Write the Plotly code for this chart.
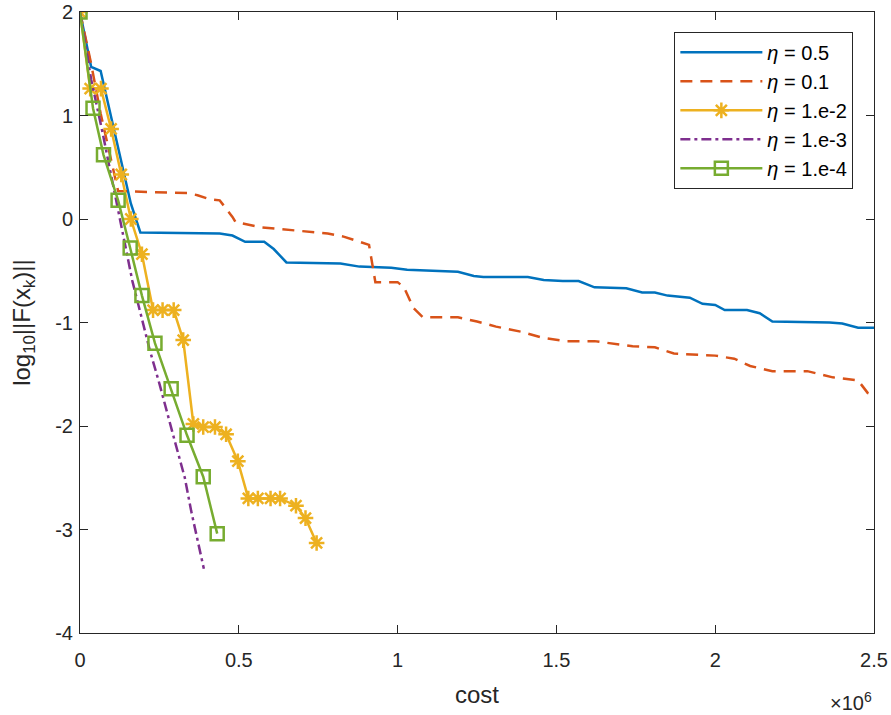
import plotly.graph_objects as go

# cost values (raw units) and log10 residual norms
cost_05 = [0, 35000, 65000, 160000, 190000, 440000, 480000, 520000, 580000, 610000,
           650000, 820000, 880000, 946000, 980000, 1030000, 1190000, 1240000, 1270000,
           1410000, 1460000, 1520000, 1570000, 1620000, 1720000, 1770000, 1810000,
           1850000, 1920000, 1960000, 2000000, 2030000, 2100000, 2140000, 2180000,
           2360000, 2400000, 2450000, 2510000]
res_05 = [2.0, 1.47, 1.43, 0.15, -0.13, -0.14, -0.16, -0.22, -0.22, -0.29,
          -0.42, -0.43, -0.46, -0.47, -0.47, -0.49, -0.51, -0.55, -0.56,
          -0.56, -0.59, -0.60, -0.60, -0.66, -0.67, -0.71, -0.71,
          -0.74, -0.76, -0.82, -0.83, -0.88, -0.88, -0.91, -0.99,
          -1.0, -1.01, -1.05, -1.05]

cost_01 = [0, 35000, 65000, 95000, 120000, 340000, 370000, 410000, 440000, 480000,
           490000, 570000, 610000, 670000, 780000, 830000, 880000, 910000, 930000,
           1000000, 1020000, 1050000, 1080000, 1190000, 1250000, 1310000, 1390000,
           1460000, 1530000, 1620000, 1740000, 1810000, 1870000, 2000000, 2060000,
           2110000, 2180000, 2290000, 2370000, 2450000, 2480000, 2510000]
res_01 = [2.0, 1.5, 1.02, 0.6, 0.27, 0.25, 0.23, 0.19, 0.18, 0.02,
          -0.03, -0.08, -0.09, -0.11, -0.14, -0.17, -0.22, -0.25, -0.61,
          -0.61, -0.66, -0.86, -0.95, -0.95, -0.99, -1.04, -1.09,
          -1.15, -1.18, -1.18, -1.23, -1.24, -1.30, -1.32, -1.35,
          -1.42, -1.47, -1.47, -1.53, -1.56, -1.68, -1.72]

cost_1e2 = [0, 32000, 66000, 98000, 130000, 160000, 195000, 230000, 260000, 295000,
            325000, 357000, 388000, 425000, 460000, 497000, 530000, 560000, 600000,
            630000, 680000, 710000, 745000]
res_1e2 = [2.0, 1.26, 1.26, 0.87, 0.43, 0.0, -0.34, -0.88, -0.88, -0.88,
           -1.17, -1.98, -2.01, -2.01, -2.08, -2.34, -2.70, -2.70, -2.70,
           -2.70, -2.77, -2.89, -3.13]

cost_1e3 = [0, 35000, 70000, 120000, 165000, 220000, 250000, 290000, 330000, 350000, 390000]
res_1e3 = [2.0, 1.35, 0.85, 0.1, -0.6, -1.27, -1.59, -2.05, -2.5, -2.82, -3.38]

cost_1e4 = [0, 41000, 74000, 120000, 158000, 195000, 236000, 287000, 337000, 388000, 432000]
res_1e4 = [2.0, 1.07, 0.62, 0.18, -0.28, -0.74, -1.2, -1.64, -2.09, -2.49, -3.04]

x_ticks = [0, 500000, 1000000, 1500000, 2000000, 2500000]
x_tick_text = ["0", "0.5", "1", "1.5", "2", "2.5"]
y_ticks = [-4, -3, -2, -1, 0, 1, 2]
y_tick_text = ["-4", "-3", "-2", "-1", "0", "1", "2"]

axis_col = "#262626"
font_name = "Liberation Sans, Arial, sans-serif"

fig = go.Figure()

fig.add_trace(go.Scatter(x=cost_05, y=res_05, mode="lines", name="<i>η</i> = 0.5",
                         line=dict(color="#0072BD", width=2.5)))
fig.add_trace(go.Scatter(x=cost_01, y=res_01, mode="lines", name="<i>η</i> = 0.1",
                         line=dict(color="#D95319", width=2.5, dash="12px,8px")))
fig.add_trace(go.Scatter(x=cost_1e2, y=res_1e2, mode="lines+markers", name="<i>η</i> = 1.e-2",
                         line=dict(color="#EDB120", width=2.5),
                         marker=dict(symbol="asterisk-open", size=13, color="#EDB120",
                                     line=dict(color="#EDB120", width=2.5))))
fig.add_trace(go.Scatter(x=cost_1e3, y=res_1e3, mode="lines", name="<i>η</i> = 1.e-3",
                         line=dict(color="#7E2F8E", width=2.5, dash="10px,4px,3px,4px")))
fig.add_trace(go.Scatter(x=cost_1e4, y=res_1e4, mode="lines+markers", name="<i>η</i> = 1.e-4",
                         line=dict(color="#77AC30", width=2.5),
                         marker=dict(symbol="square-open", size=13, color="#77AC30",
                                     line=dict(color="#77AC30", width=2.5))))

fig.update_layout(
    width=891, height=715,
    margin=dict(l=80, r=17, t=12, b=82),
    paper_bgcolor="white", plot_bgcolor="white",
    font=dict(family=font_name, size=20, color=axis_col),
    legend=dict(x=0.974, y=0.968, xanchor="right", yanchor="top",
                bgcolor="white", bordercolor=axis_col, borderwidth=1,
                font=dict(size=20, color="black"), itemwidth=82,
                tracegroupgap=0),
    annotations=[dict(text="×10<sup>6</sup>", xref="paper", yref="paper",
                      x=1.0, y=-0.11, xanchor="right", yanchor="middle",
                      showarrow=False, font=dict(size=20, color=axis_col))],
)

fig.update_xaxes(range=[0, 2500000], tickvals=x_ticks, ticktext=x_tick_text,
                 ticks="inside", ticklen=8, tickcolor=axis_col, showline=True,
                 linecolor=axis_col, linewidth=1, mirror="allticks", showgrid=False,
                 zeroline=False, automargin=False, ticklabelstandoff=9,
                 ticklabeloverflow="allow",
                 title=dict(text="cost", font=dict(size=24), standoff=16))
fig.update_yaxes(range=[-4, 2], tickvals=y_ticks, ticktext=y_tick_text, ticks="inside",
                 ticklen=8, tickcolor=axis_col, showline=True, linecolor=axis_col,
                 linewidth=1, mirror="allticks", showgrid=False, zeroline=False,
                 automargin=False, ticklabelstandoff=2, ticklabeloverflow="allow",
                 title=dict(text="log<sub>10</sub>||F(x<sub>k</sub>)||",
                            font=dict(size=24), standoff=17))

# drop the default 8px body margin so the figure fills the window
fig.write_html("out.html", config={"displayModeBar": False},
               post_script="document.body.style.margin='0';")
